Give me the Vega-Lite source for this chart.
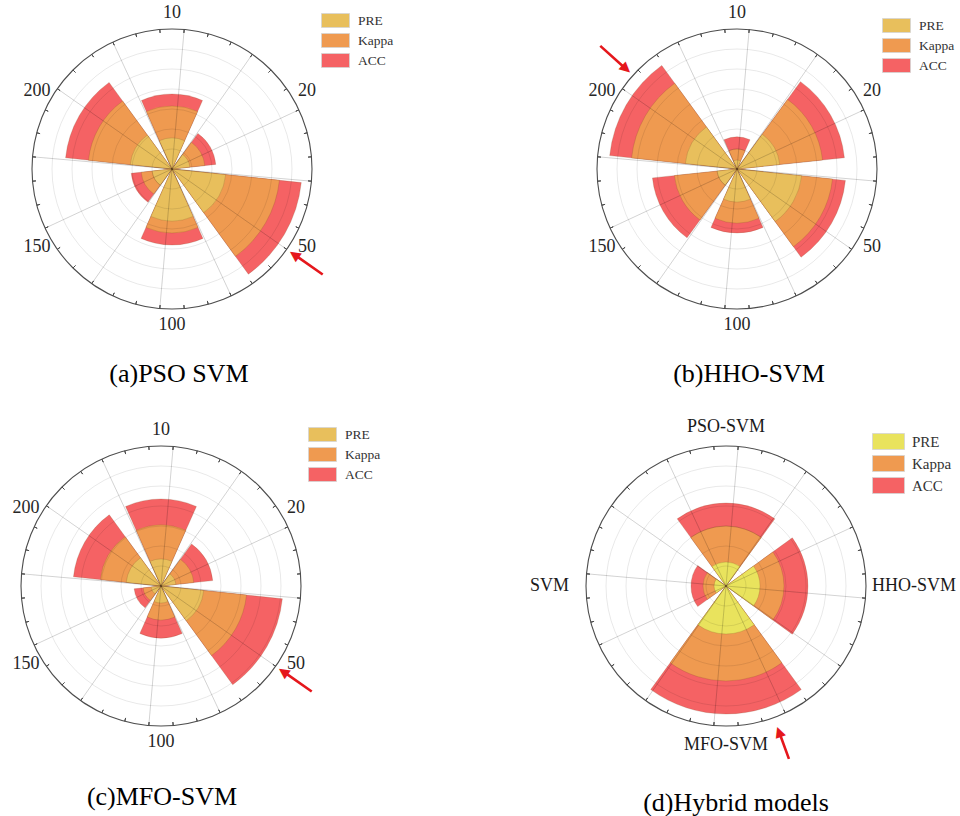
{
  "$schema": "https://vega.github.io/schema/vega-lite/v6.json",
  "background": "white",
  "padding": {"left": 12, "top": 4, "right": 0, "bottom": 0},
  "datasets": {
    "rings": [{"r": 10}, {"r": 20}, {"r": 30}, {"r": 40}, {"r": 50}, {"r": 60}],
    "spokes": [{"a": 5}, {"a": 35}, {"a": 65}, {"a": 95}, {"a": 125}, {"a": 155}, {"a": 185}, {"a": 215}, {"a": 245}, {"a": 275}, {"a": 305}, {"a": 335}],
    "ticks": [{"a": 5}, {"a": 15}, {"a": 25}, {"a": 35}, {"a": 45}, {"a": 55}, {"a": 65}, {"a": 75}, {"a": 85}, {"a": 95}, {"a": 105}, {"a": 115}, {"a": 125}, {"a": 135}, {"a": 145}, {"a": 155}, {"a": 165}, {"a": 175}, {"a": 185}, {"a": 195}, {"a": 205}, {"a": 215}, {"a": 225}, {"a": 235}, {"a": 245}, {"a": 255}, {"a": 265}, {"a": 275}, {"a": 285}, {"a": 295}, {"a": 305}, {"a": 315}, {"a": 325}, {"a": 335}, {"a": 345}, {"a": 355}],
    "panelA": [
      {"cat": 10, "metric": "PRE", "value": 15.5}, {"cat": 10, "metric": "Kappa", "value": 31.5}, {"cat": 10, "metric": "ACC", "value": 37.5},
      {"cat": 20, "metric": "PRE", "value": 9}, {"cat": 20, "metric": "Kappa", "value": 16.5}, {"cat": 20, "metric": "ACC", "value": 22},
      {"cat": 50, "metric": "PRE", "value": 27}, {"cat": 50, "metric": "Kappa", "value": 54}, {"cat": 50, "metric": "ACC", "value": 65},
      {"cat": 100, "metric": "PRE", "value": 26}, {"cat": 100, "metric": "Kappa", "value": 32}, {"cat": 100, "metric": "ACC", "value": 38},
      {"cat": 150, "metric": "PRE", "value": 10}, {"cat": 150, "metric": "Kappa", "value": 15.5}, {"cat": 150, "metric": "ACC", "value": 20.5},
      {"cat": 200, "metric": "PRE", "value": 21}, {"cat": 200, "metric": "Kappa", "value": 42}, {"cat": 200, "metric": "ACC", "value": 53.5}
    ],
    "panelB": [
      {"cat": 10, "metric": "PRE", "value": 4.5}, {"cat": 10, "metric": "Kappa", "value": 10}, {"cat": 10, "metric": "ACC", "value": 16},
      {"cat": 20, "metric": "PRE", "value": 21.5}, {"cat": 20, "metric": "Kappa", "value": 43}, {"cat": 20, "metric": "ACC", "value": 54},
      {"cat": 50, "metric": "PRE", "value": 32.5}, {"cat": 50, "metric": "Kappa", "value": 48}, {"cat": 50, "metric": "ACC", "value": 54.5},
      {"cat": 100, "metric": "PRE", "value": 16.5}, {"cat": 100, "metric": "Kappa", "value": 27}, {"cat": 100, "metric": "ACC", "value": 32},
      {"cat": 150, "metric": "PRE", "value": 10}, {"cat": 150, "metric": "Kappa", "value": 31.5}, {"cat": 150, "metric": "ACC", "value": 42.5},
      {"cat": 200, "metric": "PRE", "value": 26}, {"cat": 200, "metric": "Kappa", "value": 53}, {"cat": 200, "metric": "ACC", "value": 64}
    ],
    "panelC": [
      {"cat": 10, "metric": "PRE", "value": 13.5}, {"cat": 10, "metric": "Kappa", "value": 30.5}, {"cat": 10, "metric": "ACC", "value": 43.5},
      {"cat": 20, "metric": "PRE", "value": 7.5}, {"cat": 20, "metric": "Kappa", "value": 16.5}, {"cat": 20, "metric": "ACC", "value": 26},
      {"cat": 50, "metric": "PRE", "value": 21.5}, {"cat": 50, "metric": "Kappa", "value": 43}, {"cat": 50, "metric": "ACC", "value": 61},
      {"cat": 100, "metric": "PRE", "value": 8.5}, {"cat": 100, "metric": "Kappa", "value": 17}, {"cat": 100, "metric": "ACC", "value": 26},
      {"cat": 150, "metric": "PRE", "value": 5}, {"cat": 150, "metric": "Kappa", "value": 9}, {"cat": 150, "metric": "ACC", "value": 13.5},
      {"cat": 200, "metric": "PRE", "value": 17.5}, {"cat": 200, "metric": "Kappa", "value": 30.5}, {"cat": 200, "metric": "ACC", "value": 44}
    ],
    "panelD": [
      {"cat": "PSO-SVM", "metric": "PRE", "value": 12}, {"cat": "PSO-SVM", "metric": "Kappa", "value": 30}, {"cat": "PSO-SVM", "metric": "ACC", "value": 41.5},
      {"cat": "HHO-SVM", "metric": "PRE", "value": 17}, {"cat": "HHO-SVM", "metric": "Kappa", "value": 29}, {"cat": "HHO-SVM", "metric": "ACC", "value": 41},
      {"cat": "MFO-SVM", "metric": "PRE", "value": 24}, {"cat": "MFO-SVM", "metric": "Kappa", "value": 47.5}, {"cat": "MFO-SVM", "metric": "ACC", "value": 64},
      {"cat": "SVM", "metric": "PRE", "value": 6}, {"cat": "SVM", "metric": "Kappa", "value": 11.5}, {"cat": "SVM", "metric": "ACC", "value": 17.5}
    ]
  },
  "config": {
    "view": {"stroke": null},
    "title": {"orient": "bottom", "baseline": "top", "anchor": "middle", "font": "Liberation Serif", "fontSize": 26, "fontWeight": "normal", "color": "#000000"},
    "legend": {"symbolType": "M-2,-1H2V1H-2Z", "symbolSize": 196, "symbolStrokeColor": "#d4d4d4", "symbolStrokeWidth": 0.8, "symbolOpacity": 1, "labelFont": "Liberation Serif", "labelFontSize": 13, "labelColor": "#333333", "labelOffset": 15, "rowPadding": 1, "padding": 0}
  },
  "resolve": {"scale": {"color": "independent"}, "legend": {"color": "independent"}},
  "columns": 2,
  "spacing": {"row": 137, "column": 275},
  "bounds": "flush",
  "concat": [
    {
      "width": 290, "height": 280,
      "title": {"text": "(a)PSO SVM", "offset": 27, "dx": 7},
      "resolve": {"scale": {"theta": "independent", "radius": "independent"}},
      "layer": [
        {"data": {"name": "panelA"}, "mark": {"type": "arc", "stroke": "#7a4a20", "strokeOpacity": 0.3, "strokeWidth": 0.7},
         "encoding": {
           "theta": {"field": "cat", "type": "ordinal", "scale": {"type": "band", "domain": [10, 20, 50, 100, 150, 200], "range": [-0.5236, 5.7596], "paddingInner": 0.2, "paddingOuter": 0.1}},
           "radius": {"field": "value", "type": "quantitative", "stack": null, "scale": {"type": "linear", "domain": [0, 70], "range": [0, 140], "zero": true}},
           "color": {"field": "metric", "type": "nominal", "scale": {"domain": ["PRE", "Kappa", "ACC"], "range": ["#E8BF5C", "#EF9A50", "#F56264"]}, "legend": {"title": null, "orient": "none", "legendX": 301, "legendY": -16, "labelFontSize": 13.5, "labelFont": "Liberation Serif"}},
           "order": {"field": "value", "sort": "descending"}}},
        {"data": {"name": "rings"}, "mark": {"type": "arc", "filled": false, "stroke": "#000000", "strokeOpacity": 0.1, "strokeWidth": 0.9},
         "encoding": {"theta": {"datum": 0, "type": "quantitative", "stack": null, "scale": {"domain": [0, 360], "range": [0, 6.28319]}}, "theta2": {"datum": 360},
           "radius": {"field": "r", "type": "quantitative", "stack": null, "scale": {"type": "linear", "domain": [0, 70], "range": [0, 140], "zero": true}}}},
        {"data": {"name": "spokes"}, "mark": {"type": "arc", "filled": false, "stroke": "#000000", "strokeOpacity": 0.1, "strokeWidth": 0.9},
         "encoding": {"theta": {"field": "a", "type": "quantitative", "scale": {"domain": [0, 360], "range": [0, 6.28319]}}, "theta2": {"field": "a"},
           "radius": {"datum": 70, "type": "quantitative", "scale": {"type": "linear", "domain": [0, 70], "range": [0, 140], "zero": true}}, "radius2": {"datum": 0}}},
        {"data": {"values": [{}]}, "mark": {"type": "arc", "filled": false, "stroke": "#4d4d4d", "strokeWidth": 1.1},
         "encoding": {"theta": {"datum": 0, "type": "quantitative", "stack": null, "scale": {"domain": [0, 360], "range": [0, 6.28319]}}, "theta2": {"datum": 360},
           "radius": {"datum": 70, "type": "quantitative", "stack": null, "scale": {"type": "linear", "domain": [0, 70], "range": [0, 140], "zero": true}}}},
        {"data": {"name": "ticks"}, "mark": {"type": "arc", "filled": false, "stroke": "#4d4d4d", "strokeWidth": 1},
         "encoding": {"theta": {"field": "a", "type": "quantitative", "scale": {"domain": [0, 360], "range": [0, 6.28319]}}, "theta2": {"field": "a"},
           "radius": {"datum": 70, "type": "quantitative", "scale": {"type": "linear", "domain": [0, 70], "range": [0, 140], "zero": true}}, "radius2": {"datum": 68.3}}},
        {"data": {"name": "panelA"}, "transform": [{"filter": {"field": "metric", "equal": "ACC"}}],
         "mark": {"type": "text", "radius": 156, "font": "Liberation Serif", "fontSize": 18, "color": "#262626"},
         "encoding": {"theta": {"field": "cat", "type": "ordinal", "scale": {"type": "band", "domain": [10, 20, 50, 100, 150, 200], "range": [-0.5236, 5.7596], "paddingInner": 0.2, "paddingOuter": 0.1}},
           "text": {"field": "cat", "type": "nominal"}}},
        {"data": {"values": [{}]}, "mark": {"type": "arc", "filled": false, "stroke": "#E5171C", "strokeWidth": 2.6},
         "encoding": {"theta": {"datum": 125, "type": "quantitative", "scale": {"domain": [0, 360], "range": [0, 6.28319]}}, "theta2": {"datum": 125},
           "radius": {"datum": 92, "type": "quantitative", "scale": {"type": "linear", "domain": [0, 70], "range": [0, 140], "zero": true}}, "radius2": {"datum": 76}}},
        {"data": {"values": [{}]}, "mark": {"type": "text", "text": "▲", "font": "DejaVu Sans", "fontSize": 14, "color": "#E5171C", "angle": 305},
         "encoding": {"theta": {"datum": 125, "type": "quantitative", "stack": null, "scale": {"domain": [0, 360], "range": [0, 6.28319]}},
           "radius": {"datum": 74.5, "type": "quantitative", "stack": null, "scale": {"type": "linear", "domain": [0, 70], "range": [0, 140], "zero": true}}}}
      ]
    },
    {
      "width": 290, "height": 280,
      "title": {"text": "(b)HHO-SVM", "offset": 27, "dx": 12},
      "resolve": {"scale": {"theta": "independent", "radius": "independent"}},
      "layer": [
        {"data": {"name": "panelB"}, "mark": {"type": "arc", "stroke": "#7a4a20", "strokeOpacity": 0.3, "strokeWidth": 0.7},
         "encoding": {
           "theta": {"field": "cat", "type": "ordinal", "scale": {"type": "band", "domain": [10, 20, 50, 100, 150, 200], "range": [-0.5236, 5.7596], "paddingInner": 0.2, "paddingOuter": 0.1}},
           "radius": {"field": "value", "type": "quantitative", "stack": null, "scale": {"type": "linear", "domain": [0, 70], "range": [0, 140], "zero": true}},
           "color": {"field": "metric", "type": "nominal", "scale": {"domain": ["PRE", "Kappa", "ACC"], "range": ["#E8BF5C", "#EF9A50", "#F56264"]}, "legend": {"title": null, "orient": "none", "legendX": 297, "legendY": -11, "labelFontSize": 13.5, "labelFont": "Liberation Serif"}},
           "order": {"field": "value", "sort": "descending"}}},
        {"data": {"name": "rings"}, "mark": {"type": "arc", "filled": false, "stroke": "#000000", "strokeOpacity": 0.1, "strokeWidth": 0.9},
         "encoding": {"theta": {"datum": 0, "type": "quantitative", "stack": null, "scale": {"domain": [0, 360], "range": [0, 6.28319]}}, "theta2": {"datum": 360},
           "radius": {"field": "r", "type": "quantitative", "stack": null, "scale": {"type": "linear", "domain": [0, 70], "range": [0, 140], "zero": true}}}},
        {"data": {"name": "spokes"}, "mark": {"type": "arc", "filled": false, "stroke": "#000000", "strokeOpacity": 0.1, "strokeWidth": 0.9},
         "encoding": {"theta": {"field": "a", "type": "quantitative", "scale": {"domain": [0, 360], "range": [0, 6.28319]}}, "theta2": {"field": "a"},
           "radius": {"datum": 70, "type": "quantitative", "scale": {"type": "linear", "domain": [0, 70], "range": [0, 140], "zero": true}}, "radius2": {"datum": 0}}},
        {"data": {"values": [{}]}, "mark": {"type": "arc", "filled": false, "stroke": "#4d4d4d", "strokeWidth": 1.1},
         "encoding": {"theta": {"datum": 0, "type": "quantitative", "stack": null, "scale": {"domain": [0, 360], "range": [0, 6.28319]}}, "theta2": {"datum": 360},
           "radius": {"datum": 70, "type": "quantitative", "stack": null, "scale": {"type": "linear", "domain": [0, 70], "range": [0, 140], "zero": true}}}},
        {"data": {"name": "ticks"}, "mark": {"type": "arc", "filled": false, "stroke": "#4d4d4d", "strokeWidth": 1},
         "encoding": {"theta": {"field": "a", "type": "quantitative", "scale": {"domain": [0, 360], "range": [0, 6.28319]}}, "theta2": {"field": "a"},
           "radius": {"datum": 70, "type": "quantitative", "scale": {"type": "linear", "domain": [0, 70], "range": [0, 140], "zero": true}}, "radius2": {"datum": 68.3}}},
        {"data": {"name": "panelB"}, "transform": [{"filter": {"field": "metric", "equal": "ACC"}}],
         "mark": {"type": "text", "radius": 156, "font": "Liberation Serif", "fontSize": 18, "color": "#262626"},
         "encoding": {"theta": {"field": "cat", "type": "ordinal", "scale": {"type": "band", "domain": [10, 20, 50, 100, 150, 200], "range": [-0.5236, 5.7596], "paddingInner": 0.2, "paddingOuter": 0.1}},
           "text": {"field": "cat", "type": "nominal"}}},
        {"data": {"values": [{}]}, "mark": {"type": "arc", "filled": false, "stroke": "#E5171C", "strokeWidth": 2.6},
         "encoding": {"theta": {"datum": 312, "type": "quantitative", "scale": {"domain": [0, 360], "range": [0, 6.28319]}}, "theta2": {"datum": 312},
           "radius": {"datum": 92, "type": "quantitative", "scale": {"type": "linear", "domain": [0, 70], "range": [0, 140], "zero": true}}, "radius2": {"datum": 76}}},
        {"data": {"values": [{}]}, "mark": {"type": "text", "text": "▲", "font": "DejaVu Sans", "fontSize": 14, "color": "#E5171C", "angle": 132},
         "encoding": {"theta": {"datum": 312, "type": "quantitative", "stack": null, "scale": {"domain": [0, 360], "range": [0, 6.28319]}},
           "radius": {"datum": 74.5, "type": "quantitative", "stack": null, "scale": {"type": "linear", "domain": [0, 70], "range": [0, 140], "zero": true}}}}
      ]
    },
    {
      "width": 268, "height": 280,
      "title": {"text": "(c)MFO-SVM", "offset": 33, "dx": 1},
      "resolve": {"scale": {"theta": "independent", "radius": "independent"}},
      "layer": [
        {"data": {"name": "panelC"}, "mark": {"type": "arc", "stroke": "#7a4a20", "strokeOpacity": 0.3, "strokeWidth": 0.7},
         "encoding": {
           "theta": {"field": "cat", "type": "ordinal", "scale": {"type": "band", "domain": [10, 20, 50, 100, 150, 200], "range": [-0.5236, 5.7596], "paddingInner": 0.2, "paddingOuter": 0.1}},
           "radius": {"field": "value", "type": "quantitative", "stack": null, "scale": {"type": "linear", "domain": [0, 70], "range": [0, 140], "zero": true}},
           "color": {"field": "metric", "type": "nominal", "scale": {"domain": ["PRE", "Kappa", "ACC"], "range": ["#E8BF5C", "#EF9A50", "#F56264"]}, "legend": {"title": null, "orient": "none", "legendX": 288, "legendY": -19, "labelFontSize": 13.5, "labelFont": "Liberation Serif"}},
           "order": {"field": "value", "sort": "descending"}}},
        {"data": {"name": "rings"}, "mark": {"type": "arc", "filled": false, "stroke": "#000000", "strokeOpacity": 0.1, "strokeWidth": 0.9},
         "encoding": {"theta": {"datum": 0, "type": "quantitative", "stack": null, "scale": {"domain": [0, 360], "range": [0, 6.28319]}}, "theta2": {"datum": 360},
           "radius": {"field": "r", "type": "quantitative", "stack": null, "scale": {"type": "linear", "domain": [0, 70], "range": [0, 140], "zero": true}}}},
        {"data": {"name": "spokes"}, "mark": {"type": "arc", "filled": false, "stroke": "#000000", "strokeOpacity": 0.1, "strokeWidth": 0.9},
         "encoding": {"theta": {"field": "a", "type": "quantitative", "scale": {"domain": [0, 360], "range": [0, 6.28319]}}, "theta2": {"field": "a"},
           "radius": {"datum": 70, "type": "quantitative", "scale": {"type": "linear", "domain": [0, 70], "range": [0, 140], "zero": true}}, "radius2": {"datum": 0}}},
        {"data": {"values": [{}]}, "mark": {"type": "arc", "filled": false, "stroke": "#4d4d4d", "strokeWidth": 1.1},
         "encoding": {"theta": {"datum": 0, "type": "quantitative", "stack": null, "scale": {"domain": [0, 360], "range": [0, 6.28319]}}, "theta2": {"datum": 360},
           "radius": {"datum": 70, "type": "quantitative", "stack": null, "scale": {"type": "linear", "domain": [0, 70], "range": [0, 140], "zero": true}}}},
        {"data": {"name": "ticks"}, "mark": {"type": "arc", "filled": false, "stroke": "#4d4d4d", "strokeWidth": 1},
         "encoding": {"theta": {"field": "a", "type": "quantitative", "scale": {"domain": [0, 360], "range": [0, 6.28319]}}, "theta2": {"field": "a"},
           "radius": {"datum": 70, "type": "quantitative", "scale": {"type": "linear", "domain": [0, 70], "range": [0, 140], "zero": true}}, "radius2": {"datum": 68.3}}},
        {"data": {"name": "panelC"}, "transform": [{"filter": {"field": "metric", "equal": "ACC"}}],
         "mark": {"type": "text", "radius": 156, "font": "Liberation Serif", "fontSize": 18, "color": "#262626"},
         "encoding": {"theta": {"field": "cat", "type": "ordinal", "scale": {"type": "band", "domain": [10, 20, 50, 100, 150, 200], "range": [-0.5236, 5.7596], "paddingInner": 0.2, "paddingOuter": 0.1}},
           "text": {"field": "cat", "type": "nominal"}}},
        {"data": {"values": [{}]}, "mark": {"type": "arc", "filled": false, "stroke": "#E5171C", "strokeWidth": 2.6},
         "encoding": {"theta": {"datum": 125, "type": "quantitative", "scale": {"domain": [0, 360], "range": [0, 6.28319]}}, "theta2": {"datum": 125},
           "radius": {"datum": 92, "type": "quantitative", "scale": {"type": "linear", "domain": [0, 70], "range": [0, 140], "zero": true}}, "radius2": {"datum": 76}}},
        {"data": {"values": [{}]}, "mark": {"type": "text", "text": "▲", "font": "DejaVu Sans", "fontSize": 14, "color": "#E5171C", "angle": 305},
         "encoding": {"theta": {"datum": 125, "type": "quantitative", "stack": null, "scale": {"domain": [0, 360], "range": [0, 6.28319]}},
           "radius": {"datum": 74.5, "type": "quantitative", "stack": null, "scale": {"type": "linear", "domain": [0, 70], "range": [0, 140], "zero": true}}}}
      ]
    },
    {
      "width": 268, "height": 280,
      "title": {"text": "(d)Hybrid models", "offset": 26, "dx": 10},
      "resolve": {"scale": {"theta": "independent", "radius": "independent"}},
      "layer": [
        {"data": {"name": "panelD"}, "mark": {"type": "arc", "stroke": "#7a4a20", "strokeOpacity": 0.3, "strokeWidth": 0.7},
         "encoding": {
           "theta": {"field": "cat", "type": "ordinal", "scale": {"type": "band", "domain": ["PSO-SVM", "HHO-SVM", "MFO-SVM", "SVM"], "range": [-0.7854, 5.4978], "paddingInner": 0.2, "paddingOuter": 0.1}},
           "radius": {"field": "value", "type": "quantitative", "stack": null, "scale": {"type": "linear", "domain": [0, 70], "range": [0, 140], "zero": true}},
           "color": {"field": "metric", "type": "nominal", "scale": {"domain": ["PRE", "Kappa", "ACC"], "range": ["#E9E35D", "#EF9A50", "#F56264"]}, "legend": {"title": null, "orient": "none", "legendX": 288, "legendY": -13, "symbolSize": 256, "labelFontSize": 15, "labelFont": "Liberation Serif"}},
           "order": {"field": "value", "sort": "descending"}}},
        {"data": {"name": "rings"}, "mark": {"type": "arc", "filled": false, "stroke": "#000000", "strokeOpacity": 0.1, "strokeWidth": 0.9},
         "encoding": {"theta": {"datum": 0, "type": "quantitative", "stack": null, "scale": {"domain": [0, 360], "range": [0, 6.28319]}}, "theta2": {"datum": 360},
           "radius": {"field": "r", "type": "quantitative", "stack": null, "scale": {"type": "linear", "domain": [0, 70], "range": [0, 140], "zero": true}}}},
        {"data": {"name": "spokes"}, "mark": {"type": "arc", "filled": false, "stroke": "#000000", "strokeOpacity": 0.1, "strokeWidth": 0.9},
         "encoding": {"theta": {"field": "a", "type": "quantitative", "scale": {"domain": [0, 360], "range": [0, 6.28319]}}, "theta2": {"field": "a"},
           "radius": {"datum": 70, "type": "quantitative", "scale": {"type": "linear", "domain": [0, 70], "range": [0, 140], "zero": true}}, "radius2": {"datum": 0}}},
        {"data": {"values": [{}]}, "mark": {"type": "arc", "filled": false, "stroke": "#4d4d4d", "strokeWidth": 1.1},
         "encoding": {"theta": {"datum": 0, "type": "quantitative", "stack": null, "scale": {"domain": [0, 360], "range": [0, 6.28319]}}, "theta2": {"datum": 360},
           "radius": {"datum": 70, "type": "quantitative", "stack": null, "scale": {"type": "linear", "domain": [0, 70], "range": [0, 140], "zero": true}}}},
        {"data": {"name": "ticks"}, "mark": {"type": "arc", "filled": false, "stroke": "#4d4d4d", "strokeWidth": 1},
         "encoding": {"theta": {"field": "a", "type": "quantitative", "scale": {"domain": [0, 360], "range": [0, 6.28319]}}, "theta2": {"field": "a"},
           "radius": {"datum": 70, "type": "quantitative", "scale": {"type": "linear", "domain": [0, 70], "range": [0, 140], "zero": true}}, "radius2": {"datum": 68.3}}},
        {"data": {"name": "panelD"}, "transform": [{"filter": {"field": "metric", "equal": "ACC"}}, {"filter": {"field": "cat", "oneOf": ["PSO-SVM", "MFO-SVM"]}}],
         "mark": {"type": "text", "radius": 159, "font": "Liberation Serif", "fontSize": 18, "color": "#1a1a1a"},
         "encoding": {"theta": {"field": "cat", "type": "ordinal", "scale": {"type": "band", "domain": ["PSO-SVM", "HHO-SVM", "MFO-SVM", "SVM"], "range": [-0.7854, 5.4978], "paddingInner": 0.2, "paddingOuter": 0.1}},
           "text": {"field": "cat", "type": "nominal"}}},
        {"data": {"name": "panelD"}, "transform": [{"filter": {"field": "metric", "equal": "ACC"}}, {"filter": {"field": "cat", "equal": "HHO-SVM"}}],
         "mark": {"type": "text", "radius": 146, "align": "left", "font": "Liberation Serif", "fontSize": 18, "color": "#1a1a1a"},
         "encoding": {"theta": {"field": "cat", "type": "ordinal", "scale": {"type": "band", "domain": ["PSO-SVM", "HHO-SVM", "MFO-SVM", "SVM"], "range": [-0.7854, 5.4978], "paddingInner": 0.2, "paddingOuter": 0.1}},
           "text": {"field": "cat", "type": "nominal"}}},
        {"data": {"name": "panelD"}, "transform": [{"filter": {"field": "metric", "equal": "ACC"}}, {"filter": {"field": "cat", "equal": "SVM"}}],
         "mark": {"type": "text", "radius": 157, "align": "right", "font": "Liberation Serif", "fontSize": 18, "color": "#1a1a1a"},
         "encoding": {"theta": {"field": "cat", "type": "ordinal", "scale": {"type": "band", "domain": ["PSO-SVM", "HHO-SVM", "MFO-SVM", "SVM"], "range": [-0.7854, 5.4978], "paddingInner": 0.2, "paddingOuter": 0.1}},
           "text": {"field": "cat", "type": "nominal"}}},
        {"data": {"values": [{}]}, "mark": {"type": "arc", "filled": false, "stroke": "#E5171C", "strokeWidth": 2.6},
         "encoding": {"theta": {"datum": 160, "type": "quantitative", "scale": {"domain": [0, 360], "range": [0, 6.28319]}}, "theta2": {"datum": 160},
           "radius": {"datum": 92, "type": "quantitative", "scale": {"type": "linear", "domain": [0, 70], "range": [0, 140], "zero": true}}, "radius2": {"datum": 79}}},
        {"data": {"values": [{}]}, "mark": {"type": "text", "text": "▲", "font": "DejaVu Sans", "fontSize": 14, "color": "#E5171C", "angle": 340},
         "encoding": {"theta": {"datum": 160, "type": "quantitative", "stack": null, "scale": {"domain": [0, 360], "range": [0, 6.28319]}},
           "radius": {"datum": 77.5, "type": "quantitative", "stack": null, "scale": {"type": "linear", "domain": [0, 70], "range": [0, 140], "zero": true}}}}
      ]
    }
  ]
}
